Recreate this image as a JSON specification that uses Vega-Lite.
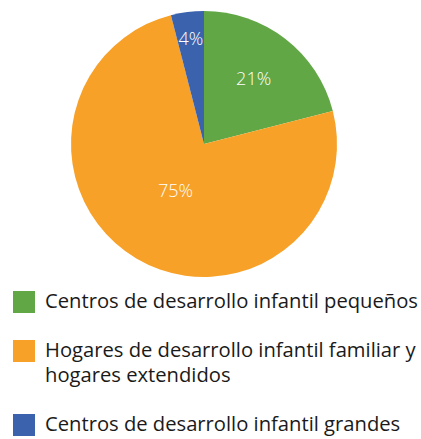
{
  "$schema": "https://vega.github.io/schema/vega-lite/v6.json",
  "width": 408,
  "height": 288,
  "padding": 0,
  "autosize": {"type": "pad"},
  "background": "white",
  "config": {"view": {"stroke": null}, "font": "Open Sans", "style": {"guide-label": {"lineHeight": 25}}},
  "data": {"values": [
    {"cat": "Centros de desarrollo infantil pequeños", "pct": 21, "label": "21%", "ord": 1},
    {"cat": "Hogares de desarrollo infantil familiar y hogares extendidos", "pct": 75, "label": "75%", "ord": 2},
    {"cat": "Centros de desarrollo infantil grandes", "pct": 4, "label": "4%", "ord": 3}
  ]},
  "encoding": {
    "theta": {"field": "pct", "type": "quantitative", "stack": true},
    "order": {"field": "ord", "type": "quantitative"}
  },
  "layer": [
    {
      "mark": {"type": "arc", "outerRadius": 133},
      "encoding": {
        "color": {
          "field": "cat", "type": "nominal",
          "scale": {
            "domain": ["Centros de desarrollo infantil pequeños", "Hogares de desarrollo infantil familiar y hogares extendidos", "Centros de desarrollo infantil grandes"],
            "range": ["#62a745", "#f7a128", "#3b62ad"]
          },
          "legend": {
            "title": null,
            "orient": "none",
            "legendX": 13,
            "legendY": 291,
            "symbolType": "square",
            "symbolSize": 484,
            "symbolStrokeWidth": 0,
            "symbolOpacity": 1,
            "labelFont": "Open Sans",
            "labelFontSize": 20.2,
            "labelColor": "#1a1a1a",
            "labelLimit": 420,
            "labelOffset": 10,
            "rowPadding": 27,
            "labelExpr": "datum.label == 'Hogares de desarrollo infantil familiar y hogares extendidos' ? ['Hogares de desarrollo infantil familiar y', 'hogares extendidos'] : datum.label"
          }
        }
      }
    },
    {
      "mark": {"type": "text", "radius": 81, "fontSize": 18, "color": "white", "font": "Open Sans", "fontWeight": 300},
      "encoding": {"text": {"condition": {"test": "datum.ord == 1", "field": "label"}, "value": ""}}
    },
    {
      "mark": {"type": "text", "radius": 56, "fontSize": 18, "color": "white", "font": "Open Sans", "fontWeight": 300},
      "encoding": {"text": {"condition": {"test": "datum.ord == 2", "field": "label"}, "value": ""}}
    },
    {
      "mark": {"type": "text", "radius": 105, "fontSize": 18, "color": "white", "font": "Open Sans", "fontWeight": 300},
      "encoding": {"text": {"condition": {"test": "datum.ord == 3", "field": "label"}, "value": ""}}
    }
  ]
}
